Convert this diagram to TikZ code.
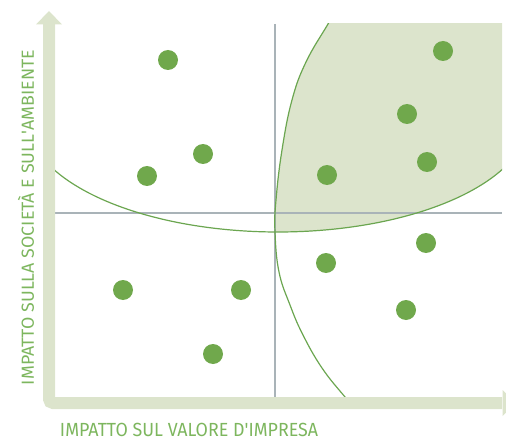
\documentclass[tikz,border=0pt]{standalone}
\usepackage{fontspec}
\setmainfont{Fira Sans}
\usepackage{graphicx}
\definecolor{axisgreen}{HTML}{DCE4CC}
\definecolor{regiongreen}{HTML}{DCE4CC}
\definecolor{curvegreen}{HTML}{6BA650}
\definecolor{dotgreen}{HTML}{70A84C}
\definecolor{gridgray}{HTML}{A9B3B8}
\definecolor{labelgreen}{HTML}{7DB65E}
\tikzset{
  dot/.style={circle, fill=dotgreen, inner sep=0pt, minimum size=20pt},
  curve/.style={draw=curvegreen, line width=1.2pt},
  grid line/.style={draw=gridgray, line width=1.1pt},
  axisbar/.style={draw=axisgreen, line width=12pt, rounded corners=4pt},
  axislabel/.style={text=labelgreen, inner sep=0pt}
}
\begin{document}
\begin{tikzpicture}[x=1pt,y=-1pt]
\useasboundingbox (0,0) rectangle (506,441);
% shaded region
\begin{scope}
  \clip (55,24) rectangle (502,397);
  \clip plot[domain=0:180, samples=90, smooth] ({278+252*cos(\x)}, {117+115*sin(\x)}) -- (20,-20) -- (540,-20) -- cycle;
  \fill[regiongreen] plot[smooth, tension=0.7] coordinates {(342,0) (328,24) (306,62) (292,100) (282,150) (276,200) (275,232) (279,272) (290,305) (303,335) (322,368) (345,397) (365,420)} -- (600,420) -- (600,0) -- cycle;
\end{scope}
% grid lines
\coordinate (vt) at (275,24);
\coordinate (vb) at (275,397);
\coordinate (hl) at (55,213);
\coordinate (hr) at (502,213);
\draw[grid line] (vt) -- (vb);
\draw[grid line] (hl) -- (hr);
% curves
\begin{scope}
  \clip (55,24) rectangle (502,397);
  \draw[curve] plot[domain=0:180, samples=90, smooth] ({278+252*cos(\x)}, {117+115*sin(\x)});
  \draw[curve] plot[smooth, tension=0.7] coordinates {(342,0) (328,24) (306,62) (292,100) (282,150) (276,200) (275,232) (279,272) (290,305) (303,335) (322,368) (345,397) (365,420)};
\end{scope}
% dots
\node[dot] (d1) at (168,60) {};
\node[dot] (d2) at (443,51) {};
\node[dot] (d3) at (407,114) {};
\node[dot] (d4) at (203,154) {};
\node[dot] (d5) at (147,176) {};
\node[dot] (d6) at (327,175) {};
\node[dot] (d7) at (427,162) {};
\node[dot] (d8) at (426,243) {};
\node[dot] (d9) at (326,263) {};
\node[dot] (d10) at (123,290) {};
\node[dot] (d11) at (241,290) {};
\node[dot] (d12) at (406,310) {};
\node[dot] (d13) at (213,354) {};
% axes
\coordinate (atop) at (49,24);
\coordinate (acorner) at (49,403);
\coordinate (aright) at (502,403);
\draw[axisbar] (atop) -- (acorner) -- (aright);
\fill[axisgreen] (36,24.5) -- (62,24.5) -- (49,11) -- cycle;
\fill[axisgreen] (502.5,390) -- (502.5,416) -- (516,403) -- cycle;
% labels
\node[axislabel, anchor=base] (xlab) at (189,436.5) {\resizebox{258pt}{\height}{\fontsize{19}{19}\selectfont IMPATTO SUL VALORE D\textquotesingle IMPRESA}};
\node[axislabel, anchor=base, rotate=90] (ylab) at (34,217.5) {\resizebox{335pt}{\height}{\fontsize{17.5}{17.5}\selectfont IMPATTO SULLA SOCIETÀ E SULL\textquotesingle AMBIENTE}};
\end{tikzpicture}
\end{document}
